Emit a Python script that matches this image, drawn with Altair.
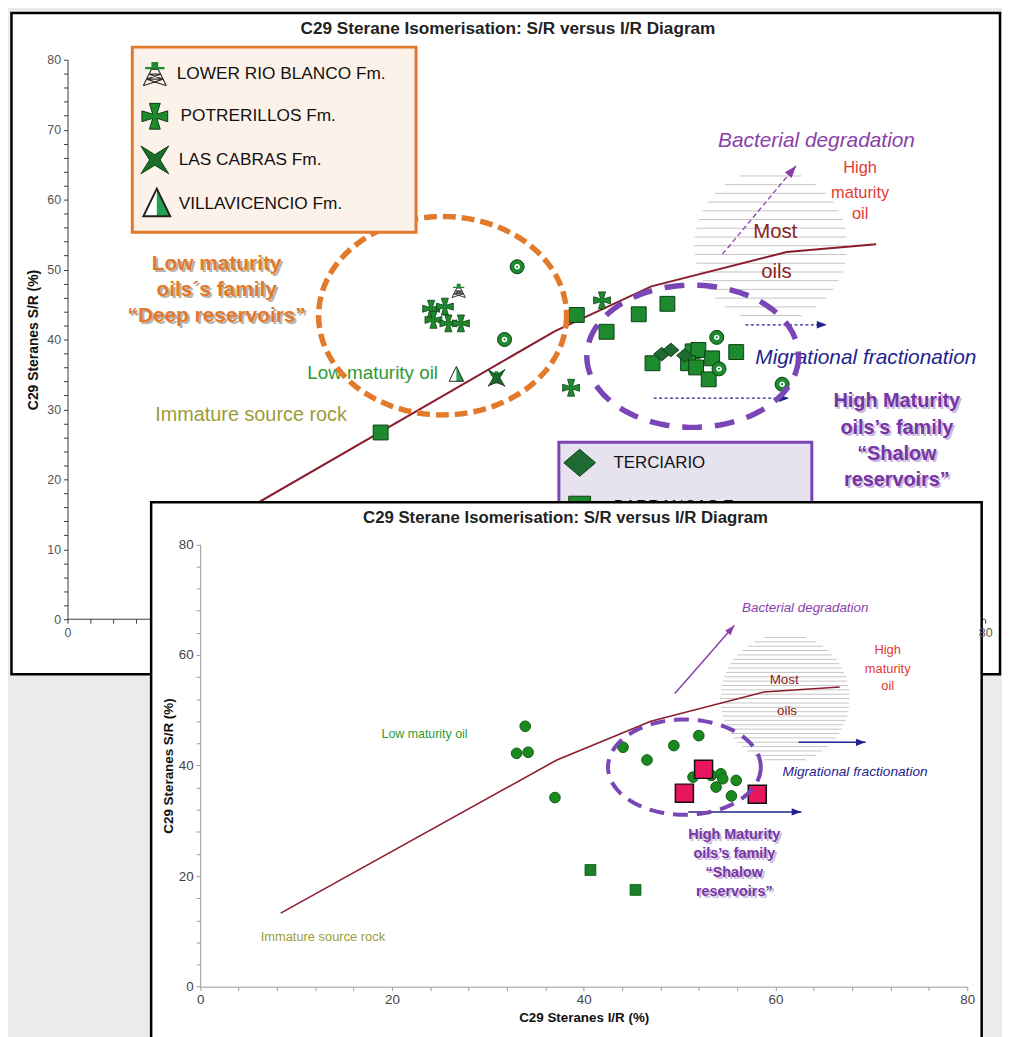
import math
import altair as alt
import pandas as pd

FONT = "Liberation Sans"
W, H = 1002, 1029

# ================= values =================
# ---- upper diagram ----
lrb_x = [34.1, 37.4]                      # LOWER RIO BLANCO Fm.
lrb_y = [47.0, 34.5]
pot_x = [31.7, 32.9, 31.9, 33.2, 34.3, 46.6, 43.9]   # POTRERILLOS Fm.
pot_y = [44.4, 44.7, 42.8, 42.3, 42.3, 45.6, 33.1]
lc_x = [37.4]                             # LAS CABRAS Fm.
lc_y = [34.5]
vil_x = [33.9]                            # VILLAVICENCIO Fm.
vil_y = [35.0]
ter_x = [51.8, 52.6, 53.8]                # TERCIARIO
ter_y = [37.9, 38.5, 37.7]
bar_x = [27.3, 44.4, 47.0, 49.8, 52.3, 51.0, 54.5, 55.0, 56.2, 54.1, 54.8, 58.3, 55.9]   # BARRANCAS Fm.
bar_y = [26.7, 43.5, 41.1, 43.6, 45.1, 36.6, 38.3, 38.5, 37.3, 36.6, 36.0, 38.2, 34.3]
dot_x = [39.2, 38.1, 56.6, 56.8, 62.3]    # dotted circles (legend entry hidden)
dot_y = [50.4, 40.0, 40.3, 35.8, 33.6]
top_curve_x = [10.0, 42.5, 50.9, 62.7, 70.5]
top_curve_y = [10.4, 41.2, 47.6, 52.5, 53.6]

# ---- lower diagram ----
low_circ_x = [33.9, 33.0, 34.2, 37.0, 44.1, 46.6, 49.4, 52.0, 51.4, 53.3, 54.3, 54.5, 53.8, 55.9, 55.4]
low_circ_y = [47.1, 42.2, 42.4, 34.2, 43.3, 41.0, 43.6, 45.4, 37.9, 38.2, 38.5, 37.6, 36.1, 37.3, 34.5]
low_pink_x = [52.5, 50.5, 58.1]
low_pink_y = [39.3, 35.0, 34.8]
low_sq_x = [40.7, 45.4]
low_sq_y = [21.1, 17.5]
low_curve_x = [8.4, 37.2, 47.0, 58.8, 66.7]
low_curve_y = [13.3, 41.0, 48.0, 53.3, 54.2]

legend_top = ["LOWER RIO BLANCO Fm.", "POTRERILLOS Fm.", "LAS CABRAS Fm.", "VILLAVICENCIO Fm."]
legend_right = ["TERCIARIO", "BARRANCAS Fm."]
title_text = "C29 Sterane Isomerisation: S/R versus I/R Diagram"
x_title = "C29 Steranes I/R (%)"
y_title = "C29 Steranes S/R (%)"

# annotations (text, x, y) in data units of each diagram
top_bact = [("Bacterial degradation", 65.3, 68.4)]
top_high = [("High", 69.1, 64.5), ("maturity", 69.1, 60.9), ("oil", 69.1, 57.9)]
top_most = [("Most", 61.7, 55.3), ("oils", 61.8, 49.7)]
top_migr = [("Migrational fractionation", 69.6, 37.4)]
top_shallow = [("High Maturity", 72.3, 31.2), ("oils\u2019s family", 72.3, 27.4),
               ("\u201cShalow", 72.3, 23.6), ("reservoirs\u201d", 72.3, 19.9)]
top_deep = [("Low maturity", 13.0, 50.8), ("oils\u00b4s family", 13.0, 47.0),
            ("\u201cDeep reservoirs\u201d", 13.0, 43.3)]
top_lowoil = [("Low maturity oil", 26.6, 35.2)]
top_immat = [("Immature source rock", 16.0, 29.2)]
top_arrows = [dict(x=57.1, y=52.2, x2=63.5, y2=64.8, kind="bact"),
              dict(x=59.1, y=42.1, x2=66.2, y2=42.1, kind="migr"),
              dict(x=51.1, y=31.6, x2=62.9, y2=31.6, kind="migr")]

low_bact = [("Bacterial degradation", 63.1, 68.4)]
low_high = [("High", 71.7, 60.8), ("maturity", 71.7, 57.4), ("oil", 71.7, 54.3)]
low_most = [("Most", 60.9, 55.4), ("oils", 61.2, 49.9)]
low_migr = [("Migrational fractionation", 68.3, 38.9)]
low_shallow = [("High Maturity", 55.7, 27.5), ("oils\u2019s family", 55.7, 24.0),
               ("\u201cShalow", 55.7, 20.6), ("reservoirs\u201d", 55.7, 17.1)]
low_lowoil = [("Low maturity oil", 23.4, 45.6)]
low_immat = [("Immature source rock", 12.8, 8.9)]
low_arrows = [dict(x=49.5, y=53.0, x2=55.7, y2=65.3, kind="bact"),
              dict(x=62.4, y=44.2, x2=69.4, y2=44.2, kind="migr"),
              dict(x=50.9, y=31.6, x2=62.7, y2=31.6, kind="migr")]

# ================= styles =================
GREEN = "#1d8a2e"
GREEN_DK = "#0b3f13"
CURVE = "#8b1c2c"
PURPLE = "#8a3fa8"
PURPLE_B = "#7535a5"
NAVY = "#23238f"
RED = "#e23a32"
BROWN = "#8b2323"
ORANGE = "#e27a2c"
LGREEN = "#2f9a35"
OLIVE = "#9c9c38"
HATCH = "#c4c4c4"

# layout of the two diagrams inside the page (pixel ranges of the scales)
TX = alt.Scale(domain=[0, 80], range=[60, 985], nice=False, zero=False)
TY = alt.Scale(domain=[0, 80], range=[612, 48], nice=False, zero=False)
BX = alt.Scale(domain=[0, 80], range=[193.7, 967], nice=False, zero=False)
BY = alt.Scale(domain=[0, 80], range=[982.4, 536.5], nice=False, zero=False)
KX_T, KY_T = 925 / 80, 564 / 80
KX_B, KY_B = 773.3 / 80, 445.9 / 80


def axis(**kw):
    base = dict(grid=False, zindex=1, labelFont=FONT, titleFont=FONT, labelFlush=False,
                labelOverlap=False, tickSize=4, titleFontWeight="bold")
    base.update(kw)
    return alt.Axis(**base)


AX_TOP_Y = axis(orient="left", offset=-60, values=list(range(0, 81, 2)),
                labelExpr="datum.value % 10 == 0 ? datum.label : ''",
                domainColor="#3a3a3a", tickColor="#3a3a3a", labelColor="#555", labelFontSize=12.5,
                labelPadding=3, title=y_title, titleFontSize=14, titleColor="#111", titlePadding=6)
AX_TOP_X = axis(orient="bottom", offset=-(H - 612), values=[0, 2, 4, 6, 80],
                labelExpr="(datum.value == 0 || datum.value == 80) ? datum.label : ''",
                domain=False, tickColor="#3a3a3a", labelColor="#555", labelFontSize=12.5,
                labelPadding=3, title=None)
AX_BOT_Y = axis(orient="left", offset=-193.7, values=list(range(0, 81, 4)),
                labelExpr="datum.value % 20 == 0 ? datum.label : ''",
                domainColor="#9a9a9a", tickColor="#9a9a9a", labelColor="#444", labelFontSize=13.5,
                labelPadding=3, title=y_title, titleFontSize=13.5, titleColor="#111", titlePadding=3)
AX_BOT_X = axis(orient="bottom", offset=-(H - 982.4), values=list(range(0, 81, 4)),
                labelExpr="datum.value % 20 == 0 ? datum.label : ''",
                domainColor="#9a9a9a", tickColor="#9a9a9a", labelColor="#444", labelFontSize=13.5,
                labelPadding=2, title=x_title, titleFontSize=13.5, titleColor="#111", titlePadding=5)


def enc_t(**kw):
    d = dict(x=alt.X("x:Q", scale=TX, axis=AX_TOP_X), y=alt.Y("y:Q", scale=TY, axis=AX_TOP_Y))
    d.update(kw)
    return d


def enc_b(**kw):
    d = dict(x=alt.X("x:Q", scale=BX, axis=AX_BOT_X), y=alt.Y("y:Q", scale=BY, axis=AX_BOT_Y))
    d.update(kw)
    return d


def xy(xs, ys):
    return pd.DataFrame({"x": xs, "y": ys})


def points(df, enc, **mk):
    p = dict(opacity=1, filled=True)
    p.update(mk)
    return alt.Chart(df).mark_point(**p).encode(**enc())


def texts(enc, rows, shadow=None, **mk):
    df = pd.DataFrame(rows, columns=["t", "x", "y"])
    base = dict(font=FONT, align="center", baseline="middle")
    base.update(mk)
    out = []
    if shadow:
        sh = dict(base)
        sh.update(color=shadow, dx=2, dy=2)
        out.append(alt.Chart(df).mark_text(**sh).encode(**enc(text="t:N")))
    out.append(alt.Chart(df).mark_text(**base).encode(**enc(text="t:N")))
    return out


# ---------- symbol shapes ----------
CROSS = ("M-0.42,-1L0.42,-1L0.16,-0.16L1,-0.42L1,0.42L0.16,0.16L0.42,1L-0.42,1"
         "L-0.16,0.16L-1,0.42L-1,-0.42L-0.16,-0.16Z")
XSTAR = "M-1,-1L0,-0.38L1,-1L0.38,0L1,1L0,0.38L-1,1L-0.38,0Z"
TRI = "M0,-1L0.9,0.85L-0.9,0.85Z"
TRI_R = "M0,-1L0.9,0.85L0,0.85Z"
TOWER_LINES = ("M-0.95,1L-0.28,-0.35M0.95,1L0.28,-0.35M-0.28,-0.35L0.28,-0.35M-0.68,0.45L0.68,0.45"
               "M-0.48,0.05L0.48,0.05M-0.95,1L0.68,0.45M0.95,1L-0.68,0.45M-0.68,0.45L0.48,0.05"
               "M0.68,0.45L-0.48,0.05")
TOWER_CAP = ("M-0.8,-0.35L0.8,-0.35L0.8,-0.55L0.28,-0.55L0.28,-0.95L-0.28,-0.95L-0.28,-0.55"
             "L-0.8,-0.55Z")
DIAMOND = "M0,-0.85L1,0L0,0.85L-1,0Z"
ARROW = "M0,0L-1.6,-0.6L-1.6,0.6Z"


def ellipse_path(ratio, n=120):
    pts = []
    for k in range(n):
        a = 2 * math.pi * k / n
        pts.append(f"{math.cos(a):.4f},{ratio * math.sin(a):.4f}")
    return "M" + "L".join(pts) + "Z"


def hatch_path(step):
    segs = []
    n = int(1 / step)
    for i in range(-n, n + 1):
        yy = i * step
        w = math.sqrt(max(0.0, 1 - yy * yy))
        if w > 0.05:
            segs.append(f"M{-w:.3f},{yy:.3f}L{w:.3f},{yy:.3f}")
    return "".join(segs)


def arrows(enc, rows, kx, ky, style):
    df = pd.DataFrame(rows)
    out = []
    for kind, st in style.items():
        sub = df[df.kind == kind].copy()
        if sub.empty:
            continue
        sub["ang"] = [math.degrees(math.atan2(-(r.y2 - r.y) * ky, (r.x2 - r.x) * kx)) % 360
                      for r in sub.itertuples()]
        rule_kw = dict(color=st["color"], strokeWidth=st["width"])
        if "dash" in st:
            rule_kw["strokeDash"] = st["dash"]
        out.append(alt.Chart(sub).mark_rule(**rule_kw).encode(**enc(x2="x2:Q", y2="y2:Q")))
        heads = pd.DataFrame({"x": sub.x2, "y": sub.y2, "ang": sub.ang})
        out.append(alt.Chart(heads).mark_point(shape=ARROW, filled=True, fill=st["color"], opacity=1,
                                               size=st["head"]).encode(
            **enc(angle=alt.Angle("ang:Q", scale=None))))
    return out


one = pd.DataFrame({"k": [0]})


def px_rect(x, x2, y, y2, **mk):
    return alt.Chart(one).mark_rect(**mk).encode(x=alt.value(x), x2=alt.value(x2),
                                                 y=alt.value(y), y2=alt.value(y2))


def px_text(txt, x, y, **mk):
    kw = dict(font=FONT, baseline="middle")
    kw.update(mk)
    return alt.Chart(one).mark_text(**kw).encode(x=alt.value(x), y=alt.value(y), text=alt.value(txt))


def px_point(x, y, **mk):
    kw = dict(opacity=1)
    kw.update(mk)
    return alt.Chart(one).mark_point(**kw).encode(x=alt.value(x), y=alt.value(y))


# ================= upper diagram =================
top = []
top.append(px_rect(3.5, 1000, 1, 667.5, fill="white", stroke="black", strokeWidth=2.5))
top.append(points(xy([61.3], [53.4]), enc_t, shape=hatch_path(8.8 / 77), filled=False,
                  color=HATCH, strokeWidth=1, size=154 ** 2))
top.append(alt.Chart(xy(top_curve_x, top_curve_y)).mark_line(color=CURVE, strokeWidth=2).encode(**enc_t()))
top.append(alt.Chart(pd.DataFrame({"x": [0], "x2": [80], "y": [0]})).mark_rule(
    color="#3a3a3a", strokeWidth=1).encode(**enc_t(x2="x2:Q")))
top += arrows(enc_t, top_arrows, KX_T, KY_T,
              {"bact": dict(color=PURPLE, width=1.3, dash=[5, 3], head=225),
               "migr": dict(color=NAVY, width=1.3, dash=[3, 2.5], head=160)})
# data points
top.append(points(xy(bar_x, bar_y), enc_t, shape="square", fill=GREEN, stroke=GREEN_DK,
                  strokeWidth=1, size=225))
top.append(points(xy(ter_x, ter_y), enc_t, shape=DIAMOND, fill="#1e6b34", stroke=GREEN_DK,
                  strokeWidth=1, size=260))
top.append(points(xy(dot_x, dot_y), enc_t, shape="circle", fill=GREEN, stroke=GREEN_DK,
                  strokeWidth=1, size=200))
top.append(points(xy(dot_x, dot_y), enc_t, shape="circle", fill="white", size=30))
top.append(points(xy(dot_x, dot_y), enc_t, shape="circle", fill=GREEN, size=5))
top.append(points(xy(lrb_x, lrb_y), enc_t, shape=TOWER_LINES, filled=False, color="#333",
                  strokeWidth=1, size=200))
top.append(points(xy(lrb_x, lrb_y), enc_t, shape=TOWER_CAP, fill=GREEN, size=200))
top.append(points(xy(pot_x, pot_y), enc_t, shape=CROSS, fill=GREEN, stroke=GREEN_DK,
                  strokeWidth=0.8, size=289))
top.append(points(xy(lc_x, lc_y), enc_t, shape=XSTAR, fill="#1b6e2a", stroke=GREEN_DK,
                  strokeWidth=0.8, size=289))
top.append(points(xy(vil_x, vil_y), enc_t, shape=TRI, fill="white", size=263))
top.append(points(xy(vil_x, vil_y), enc_t, shape=TRI_R, fill="#23a050", size=263))
top.append(points(xy(vil_x, vil_y), enc_t, shape=TRI, filled=False, color="#222", strokeWidth=1, size=263))
# annotations
top += texts(enc_t, top_bact, fontSize=21, fontStyle="italic", color=PURPLE)
top += texts(enc_t, top_high, fontSize=16.5, color=RED)
top += texts(enc_t, top_most, fontSize=20.5, color=BROWN)
top += texts(enc_t, top_migr, fontSize=21, fontStyle="italic", color=NAVY)
top += texts(enc_t, top_shallow, shadow="#cbb8dc", fontSize=20, fontWeight="bold", color=PURPLE_B)
top += texts(enc_t, top_deep, shadow="#b9b2aa", fontSize=21, fontWeight="bold", color=ORANGE)
top += texts(enc_t, top_lowoil, fontSize=19, color=LGREEN)
top += texts(enc_t, top_immat, fontSize=20, color=OLIVE)
# dashed families
top.append(points(xy([32.7], [43.4]), enc_t, shape=ellipse_path(100 / 125), filled=False,
                  color=ORANGE, strokeWidth=5.5, strokeDash=[13, 6], size=250 ** 2))
top.append(points(xy([54.5], [37.6]), enc_t, shape=ellipse_path(71.7 / 106.7), filled=False,
                  color="#7a45b5", strokeWidth=5.5, strokeDash=[20, 13], size=213.4 ** 2))
# legend (formations)
top.append(px_rect(125.3, 411.3, 35.3, 222, fill="#fdf2ea", stroke=ORANGE, strokeWidth=3))
leg_y = [62, 105, 149, 193]
leg_tx = [170, 174, 172, 172]
top.append(px_point(148, leg_y[0], shape=TOWER_LINES, filled=False, color="#333", strokeWidth=1.2, size=600))
top.append(px_point(148, leg_y[0], shape=TOWER_CAP, filled=True, fill=GREEN, size=600))
top.append(px_point(148, leg_y[1], shape=CROSS, filled=True, fill=GREEN, stroke=GREEN_DK, strokeWidth=1, size=676))
top.append(px_point(148, leg_y[2], shape=XSTAR, filled=True, fill="#1b6e2a", stroke=GREEN_DK, strokeWidth=1, size=784))
top.append(px_point(150, leg_y[3], shape=TRI, filled=True, fill="white", size=900))
top.append(px_point(150, leg_y[3], shape=TRI_R, filled=True, fill="#23a050", size=900))
top.append(px_point(150, leg_y[3], shape=TRI, filled=False, color="#222", strokeWidth=2, size=900))
for name, yy, tx in zip(legend_top, leg_y, leg_tx):
    top.append(px_text(name, tx, yy, fontSize=17.4, color="#111", align="left"))
# legend (reservoirs)
top.append(px_rect(555.3, 810.3, 433.7, 560, fill="#e6e3ef", stroke="#7a45b5", strokeWidth=3))
top.append(px_point(576.3, 454.3, shape=DIAMOND, filled=True, fill="#1e6b34", stroke=GREEN_DK, strokeWidth=1, size=1024))
top.append(px_point(576.3, 499, shape="square", filled=True, fill=GREEN, stroke=GREEN_DK, strokeWidth=1, size=484))
top.append(px_text(legend_right[0], 610.3, 454.3, fontSize=17, color="#111", align="left"))
top.append(px_text(legend_right[1], 610.3, 499, fontSize=17, color="#111", align="left"))
top.append(px_text(title_text, 504, 17.5, fontSize=17.3, fontWeight="bold", color="#222", align="center"))

# ================= lower diagram =================
low = []
low.append(px_rect(144.3, 981.5, 494, 1045, fill="white", stroke="black", strokeWidth=2.5))
low.append(points(xy([61.0], [52.1]), enc_b, shape=hatch_path(4.4 / 65), filled=False,
                  color=HATCH, strokeWidth=1, size=130 ** 2))
low.append(alt.Chart(xy(low_curve_x, low_curve_y)).mark_line(color=CURVE, strokeWidth=1.6).encode(**enc_b()))
low += arrows(enc_b, low_arrows, KX_B, KY_B,
              {"bact": dict(color=PURPLE, width=1.5, head=150),
               "migr": dict(color=NAVY, width=1.5, head=150)})
low.append(points(xy(low_circ_x, low_circ_y), enc_b, shape="circle", fill="#1a8a1f", stroke="#0d5c12",
                  strokeWidth=1, size=115))
low.append(points(xy(low_sq_x, low_sq_y), enc_b, shape="square", fill="#1a7f2a", stroke="#0d5c12",
                  strokeWidth=0.8, size=121))
low.append(points(xy(low_pink_x, low_pink_y), enc_b, shape="square", fill="#e8175d", stroke="#111",
                  strokeWidth=1.5, size=330))
low += texts(enc_b, low_bact, fontSize=13.5, fontStyle="italic", color=PURPLE)
low += texts(enc_b, low_high, fontSize=13, color=RED)
low += texts(enc_b, low_most, fontSize=13.5, color=BROWN)
low += texts(enc_b, low_migr, fontSize=13.8, fontStyle="italic", color=NAVY)
low += texts(enc_b, low_shallow, shadow="#cbb8dc", fontSize=14.5, fontWeight="bold", color=PURPLE_B)
low += texts(enc_b, low_lowoil, fontSize=12.5, color=LGREEN)
low += texts(enc_b, low_immat, fontSize=13, color=OLIVE)
low.append(points(xy([50.5], [39.7]), enc_b, shape=ellipse_path(48 / 77), filled=False,
                  color="#7a45b5", strokeWidth=4, strokeDash=[15, 9], size=154 ** 2))
low.append(px_text(title_text, 562, 510.5, fontSize=16.9, fontWeight="bold", color="#222", align="center"))

chart = alt.layer(alt.layer(*top), alt.layer(*low)).resolve_scale(
    x="independent", y="independent"
).properties(
    width=W, height=H, autosize=alt.AutoSizeParams(type="none"), padding=0, background="#ebebeb"
).configure_view(strokeWidth=0)

chart.save("out.html", embed_options={"renderer": "svg", "actions": False})
